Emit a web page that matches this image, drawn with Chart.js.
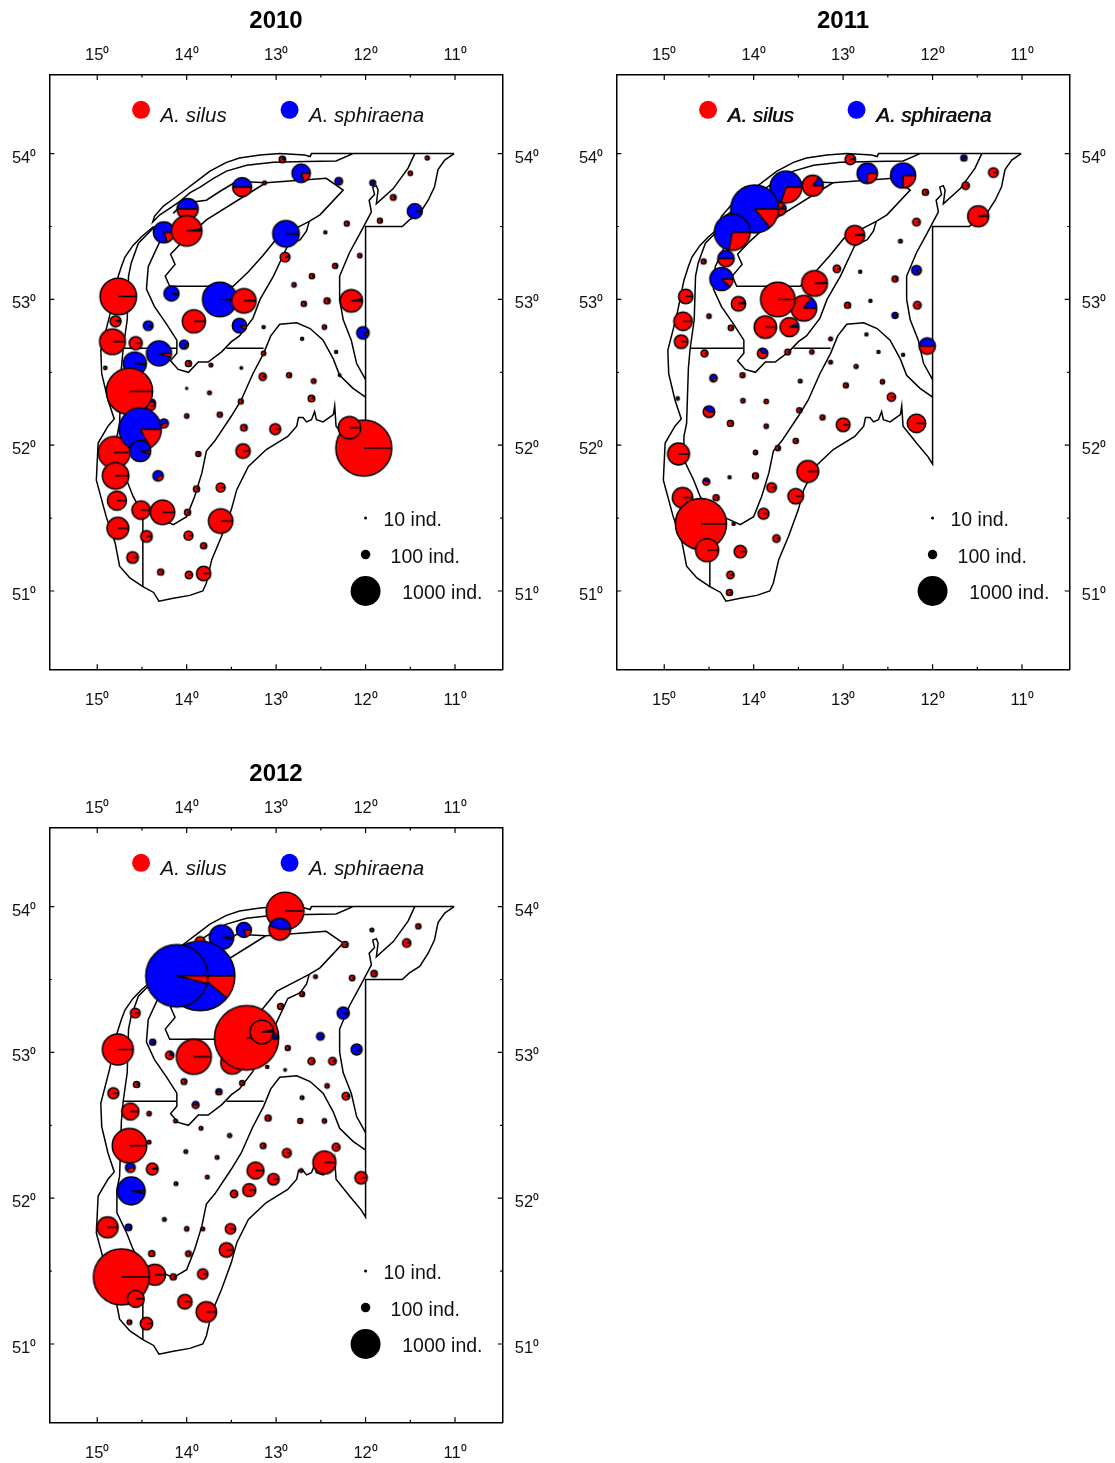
<!DOCTYPE html>
<html><head><meta charset="utf-8">
<script src="https://cdn.jsdelivr.net/npm/chart.js@4"></script>
<style>html,body{margin:0;padding:0;background:#fff}canvas{position:absolute;display:block}</style>
</head><body>
<canvas id="c2010" width="552" height="715" style="left:0;top:0"></canvas>
<canvas id="c2011" width="552" height="715" style="left:567px;top:0"></canvas>
<canvas id="c2012" width="552" height="710" style="left:0;top:753px"></canvas>
<script>
const years = ['2010','2011','2012'];
const lonTicks = [15,14.5,14,13.5,13,12.5,12,11.5,11];
const latTicks = [54,53.5,53,52.5,52,51.5,51];
const speciesNames = ['A. silus','A. sphiraena'];
const speciesDots = [[14.51,54.30,360,0],[12.85,54.30,360,1]];
const sizeNames = ['10 ind.','100 ind.','1000 ind.'];
const sizeDots = [[12,51.5,10],[12,51.25,100],[12,51,1000]];
const sizeLabelLon = [11.80,11.72,11.59];

const topStrip = [[11.01,54],[12.14,54],[12.605,54],[12.62,53.98],[12.68,53.99],[12.96,54],[13.18,53.99],[13.41,53.97],[13.555,53.94],[13.74,53.88],[13.89,53.81],[14.04,53.74],[14.17,53.68],[14.26,53.64],[14.36,53.57],[14.38,53.53],[14.30,53.58],[14.19,53.625],[14.08,53.67],[13.965,53.73],[13.85,53.77],[13.70,53.83],[13.555,53.88],[13.33,53.92],[13.03,53.94],[12.66,53.945],[12.33,53.95],[12.14,54]];
const outerCoast = [[14.37,53.50],[14.505,53.43],[14.60,53.37],[14.69,53.29],[14.73,53.225],[14.78,53.13],[14.86,52.89],[14.91,52.77],[14.96,52.65],[14.95,52.49],[14.88,52.31],[14.81,52.18],[14.88,52.13],[14.99,52.015],[15.01,51.76],[14.90,51.51],[14.80,51.33],[14.75,51.17],[14.635,51.09],[14.49,51.03],[14.37,50.99],[14.31,50.93],[14.15,50.95],[13.965,50.97],[13.82,51.00],[13.78,51.055],[13.72,51.215],[13.61,51.375],[13.50,51.56],[13.44,51.695],[13.31,51.855],[13.11,51.97],[12.87,52.06],[12.77,52.13],[12.75,52.19],[12.70,52.19],[12.66,52.16],[12.605,52.175],[12.57,52.23],[12.55,52.175],[12.475,52.16],[12.36,52.21],[12.345,52.27],[12.33,52.13],[12.18,52.015],[12.05,51.92],[12.00,51.87],[12.00,53.50],[11.59,53.50],[11.51,53.545],[11.395,53.59],[11.30,53.68],[11.23,53.77],[11.19,53.89],[11.115,53.955],[11.01,54]];
const centralBasin = [[13.115,53.80],[12.44,53.83],[12.25,53.75],[12.51,53.58],[12.63,53.535],[12.99,53.42],[13.15,53.30],[13.31,53.19],[13.48,53.09],[14.19,53.09],[14.24,53.16],[14.13,53.24],[14.18,53.31],[14.04,53.40],[13.78,53.545],[13.115,53.80]];
const basinBand = [[12.63,53.535],[12.66,53.47],[12.73,53.41],[12.87,53.37],[13.03,53.16],[13.18,53.00],[13.26,52.87],[13.41,52.75],[13.50,52.71],[13.61,52.64],[13.76,52.57],[13.87,52.57],[13.98,52.50],[14.095,52.52],[14.18,52.58],[14.11,52.63],[14.11,52.72],[14.225,52.83],[14.36,52.95],[14.45,53.07],[14.43,53.225],[14.32,53.37],[14.255,53.45]];
const hillLine = [[14.355,53.50],[14.54,53.385],[14.62,53.25],[14.65,53.16],[14.665,52.86],[14.71,52.665],[14.73,52.53],[14.75,52.15],[14.78,52.06],[14.78,51.90],[14.67,51.76],[14.60,51.65],[14.52,51.56],[14.15,51.455],[14.00,51.51],[13.91,51.65],[13.83,51.81],[13.78,51.96],[13.685,52.03],[13.50,52.20],[13.39,52.31],[13.26,52.49],[13.14,52.63],[13.06,52.75],[12.96,52.83],[12.77,52.84],[12.62,52.80],[12.475,52.72],[12.36,52.59],[12.29,52.48],[12.14,52.39],[12.00,52.33]];
const lagoonLine = [[11.45,54],[11.525,53.90],[11.69,53.76],[11.88,53.655],[11.86,53.75],[11.88,53.78],[11.92,53.77],[11.90,53.72],[11.96,53.68],[11.935,53.60],[12.065,53.45],[12.18,53.32],[12.29,53.16],[12.29,53.00],[12.25,52.86],[12.16,52.72],[12.10,52.56],[12.00,52.45]];
const sectorWest = [[14.71,52.665],[14.11,52.665]];
const sectorEast = [[13.555,52.665],[13.14,52.665]];
const sectorSouth = [[14.49,51.51],[14.49,51.03]];
const innerTop = [[14.15,53.59],[14.04,53.66],[13.78,53.68],[13.63,53.74],[13.44,53.81],[13.115,53.80]];
const mapLines = [topStrip,outerCoast,centralBasin,basinBand,hillLine,lagoonLine,sectorWest,sectorEast,sectorSouth,innerTop];

// [lon, lat, individuals, share of A. sphiraena]
const stations2010 = [
[12.93,53.96,32,.2],[12.72,53.865,338,.8],[12.30,53.81,50,.8],[13.38,53.77,364,.5],[13.13,53.80,8,0],[13.99,53.62,450,.5],[14.255,53.46,450,.8],[14.00,53.47,968,.02],[12.89,53.45,722,.99],[12.90,53.29,85,.05],
[12.21,53.52,18,0],[12.45,53.46,5,0],[12.065,53.30,12,0],[12.34,53.23,20,.1],[12.60,53.16,20,0],[12.80,53.10,12,0],[12.69,52.97,20,0],[12.43,52.99,30,.1],[12.16,52.99,512,.03],[14.17,53.04,220,.97],
[13.63,53.00,1250,.99],[13.36,52.99,610,.01],[14.765,53.02,1400,0],[13.92,52.85,545,0],[14.795,52.85,110,.05],[14.43,52.82,85,.95],[13.41,52.82,200,.9],[13.14,52.81,5,0],[12.46,52.81,12,0],[12.03,52.77,145,.9],
[12.71,52.73,5,0],[14.83,52.71,680,0],[14.57,52.70,160,0],[14.31,52.63,640,.95],[14.03,52.69,72,.85],[13.14,52.63,12,0],[12.33,52.64,5,0],[14.58,52.56,545,.98],[14.91,52.53,6,0],[13.98,52.56,30,.1],
[13.73,52.55,8,0],[13.39,52.53,3,0],[13.15,52.47,45,.1],[12.855,52.48,18,0],[12.58,52.44,15,0],[12.29,52.48,3,0],[14.39,52.29,45,.95],[14.40,52.27,70,0],[14.64,52.37,2280,0],[14.00,52.39,1,0],
[13.745,52.36,8,0],[13.395,52.30,18,0],[12.605,52.32,35,.1],[14.81,51.95,1060,0],[14.52,52.11,1900,.83],[14.255,52.15,70,.6],[14.00,52.20,12,0],[13.63,52.21,20,0],[13.36,52.12,35,.05],[13.01,52.11,110,0],
[12.02,51.98,3360,0],[12.18,52.12,510,0],[14.52,51.96,450,.95],[13.87,51.94,18,0],[13.37,51.96,200,0],[14.795,51.79,720,0],[14.32,51.79,100,.7],[13.62,51.71,70,0],[13.89,51.70,30,.05],[14.78,51.62,365,0],
[14.51,51.555,340,0],[14.27,51.54,610,0],[13.99,51.54,30,0],[13.62,51.48,610,0],[14.77,51.43,480,0],[13.98,51.38,70,0],[14.45,51.375,125,0],[13.81,51.31,30,0],[14.605,51.23,125,0],[14.29,51.13,30,0],
[13.975,51.11,45,0],[13.81,51.12,200,0],[11.92,53.80,25,.8],[11.69,53.70,25,.1],[11.84,53.54,18,0],[11.31,53.97,10,0],[11.50,53.865,12,0],[11.45,53.605,220,.97]];
const stations2011 = [
[12.92,53.96,100,.05],[11.65,53.97,30,.7],[11.32,53.87,85,0],[11.63,53.78,45,0],[12.73,53.865,420,.75],[12.33,53.85,650,.75],[13.34,53.78,450,.15],[13.64,53.77,1060,.7],[13.71,53.62,160,.1],[13.99,53.62,2450,.86],
[12.08,53.735,30,0],[12.18,53.53,50,0],[11.49,53.57,450,.02],[12.87,53.44,390,.02],[12.36,53.40,8,0],[14.24,53.46,1350,.72],[14.31,53.28,265,.5],[14.56,53.26,18,0],[14.36,53.14,545,.88],[13.07,53.21,45,0],
[12.18,53.20,85,.85],[12.81,53.19,5,0],[12.42,53.14,28,0],[13.32,53.11,680,.01],[14.76,53.02,200,.01],[13.44,52.94,680,.15],[13.73,53.00,1250,0],[14.17,52.97,200,.05],[12.95,52.96,30,0],[12.695,52.99,5,0],
[12.17,52.96,50,0],[14.50,52.885,12,0],[14.79,52.85,340,0],[13.87,52.81,510,0],[13.60,52.81,365,.07],[14.255,52.805,22,0],[12.42,52.89,28,.8],[14.81,52.71,180,0],[13.14,52.73,8,0],[12.74,52.76,5,0],
[12.06,52.68,265,.5],[12.605,52.64,5,0],[12.33,52.62,5,0],[14.55,52.63,40,0],[13.90,52.63,100,.35],[13.62,52.64,25,0],[13.35,52.64,12,0],[13.14,52.57,8,0],[12.855,52.54,10,0],[14.45,52.46,45,.7],
[14.125,52.48,18,0],[13.48,52.44,8,0],[12.97,52.41,18,0],[12.56,52.435,12,0],[12.46,52.33,60,0],[14.85,52.32,6,0],[14.12,52.305,12,0],[13.86,52.30,12,0],[14.50,52.23,125,.4],[13.49,52.24,20,0],
[13.23,52.19,18,0],[14.26,52.15,30,0],[13.86,52.13,12,0],[13.00,52.14,180,0],[12.18,52.15,340,0],[13.53,52.03,20,0],[13.73,51.98,20,0],[14.84,51.94,480,0],[13.98,51.95,12,0],[13.395,51.82,480,0],
[14.53,51.75,40,.4],[14.27,51.78,5,0],[13.98,51.79,28,0],[13.80,51.71,85,0],[13.53,51.65,240,0],[14.795,51.64,420,0],[14.42,51.64,30,0],[14.225,51.46,5,0],[14.59,51.46,2800,0],[13.89,51.53,110,0],
[14.52,51.28,545,0],[13.745,51.36,45,0],[14.15,51.27,145,0],[14.26,51.11,45,0],[14.27,50.99,30,0]];
const stations2012 = [
[12.90,53.97,1500,0],[12.96,53.845,480,.45],[11.93,53.84,8,0],[11.41,53.865,20,0],[11.54,53.75,60,.05],[12.23,53.74,30,0],[13.36,53.84,220,.8],[13.61,53.79,610,.97],[13.85,53.76,90,0],[13.85,53.525,5230,.89],
[14.11,53.525,4170,.96],[12.15,53.51,22,0],[11.905,53.54,32,.05],[12.56,53.52,8,0],[12.71,53.40,18,0],[12.95,53.315,28,0],[12.25,53.27,140,.95],[14.575,53.27,85,0],[13.49,52.93,540,0],[13.33,53.10,4450,0],
[13.16,53.14,570,.03],[13.01,53.11,25,.9],[12.505,53.11,50,.9],[12.10,53.02,110,.95],[14.38,53.07,30,.85],[14.77,53.02,1000,0],[14.19,52.98,60,.2],[13.92,52.97,1280,0],[12.87,53.03,18,0],[12.605,52.94,40,0],
[12.37,52.94,50,.05],[13.10,52.90,5,0],[12.90,52.88,3,0],[14.82,52.72,110,0],[14.56,52.78,30,.05],[14.03,52.80,25,0],[13.38,52.79,18,0],[13.64,52.73,30,.5],[12.43,52.77,12,0],[12.71,52.69,8,0],
[12.22,52.70,50,.05],[13.90,52.64,40,.5],[14.63,52.595,290,0],[14.42,52.58,12,0],[13.09,52.55,30,0],[12.73,52.53,18,0],[12.46,52.53,12,0],[13.84,52.48,8,0],[13.52,52.43,10,0],[14.125,52.53,8,0],
[14.64,52.36,1250,0],[14.42,52.385,8,0],[14.01,52.32,8,0],[13.145,52.36,25,0],[12.88,52.31,70,0],[12.33,52.35,55,0],[12.46,52.245,540,0],[13.66,52.28,8,0],[14.63,52.21,85,.6],[14.385,52.20,130,.05],
[13.23,52.19,285,0],[13.03,52.13,125,0],[13.77,52.145,8,0],[14.12,52.10,8,0],[12.05,52.14,145,0],[12.72,52.19,8,0],[13.47,52.03,45,0],[13.30,52.055,165,0],[14.62,52.05,800,.97],[14.885,51.80,450,0],
[14.65,51.80,35,.9],[14.25,51.855,8,0],[14.00,51.79,12,0],[13.82,51.79,8,0],[13.51,51.79,100,0],[13.555,51.645,200,0],[14.39,51.62,30,0],[13.98,51.62,25,0],[14.355,51.475,450,0],[14.73,51.46,3360,0],
[14.15,51.46,30,0],[13.82,51.48,100,0],[14.57,51.31,285,0],[14.02,51.29,200,0],[13.78,51.22,420,0],[14.45,51.14,145,0],[14.64,51.15,15,0]];
const stationsByYear = [stations2010,stations2011,stations2012];

const RED='#ff0000', BLUE='#0000ff', FONT='"Liberation Sans", Arial, sans-serif';
const radiusOf = n => 15*Math.sqrt(n/1000);

function pie(rIn, blue){
  const r = rIn+0.5;
  const size = Math.ceil(2*r+4), c = document.createElement('canvas');
  c.width = c.height = size;
  const g = c.getContext('2d'), m = size/2, end = 2*Math.PI*(1-blue);
  g.lineWidth = 1.5; g.strokeStyle = '#000'; g.lineJoin='round';
  g.beginPath(); g.arc(m,m,r,0,2*Math.PI); g.fillStyle = blue>=1?BLUE:RED; g.fill();
  if(blue>0 && blue<1){ g.beginPath(); g.moveTo(m,m); g.arc(m,m,r,end,2*Math.PI); g.closePath(); g.fillStyle=BLUE; g.fill(); }
  g.beginPath(); g.arc(m,m,r,0,2*Math.PI); g.stroke();
  g.beginPath(); g.moveTo(m,m); g.lineTo(m+r,m);
  if(blue>0 && blue<1){ g.moveTo(m,m); g.lineTo(m+r*Math.cos(end),m+r*Math.sin(end)); }
  g.stroke();
  return c;
}
const toPoint = p => ({x:p[0],y:p[1]});
const integerDegree = v => Number.isInteger(v) ? v+'\u2070' : '';

const frameAndText = {
  id:'frameAndText',
  afterDraw(chart, args, opts){
    const g = chart.ctx, s = chart.scales, A = chart.chartArea;
    g.save(); g.strokeStyle='#000'; g.lineWidth=1.2;
    lonTicks.forEach(v=>{ const x=s.x.getPixelForValue(v), l=Number.isInteger(v)?5:2.5;
      g.beginPath(); g.moveTo(x,A.top); g.lineTo(x,A.top+l); g.moveTo(x,A.bottom); g.lineTo(x,A.bottom-l); g.stroke(); });
    latTicks.forEach(v=>{ const y=s.y.getPixelForValue(v), l=Number.isInteger(v)?5:2.5;
      g.beginPath(); g.moveTo(A.left,y); g.lineTo(A.left+l,y); g.moveTo(A.right,y); g.lineTo(A.right-l,y); g.stroke(); });
    g.fillStyle='#111'; g.textBaseline='middle'; g.textAlign='left';
    g.font='italic 20.5px '+FONT;
    speciesNames.forEach((t,i)=>{
      const x=s.x.getPixelForValue(speciesDots[i][0])+19.5, y=s.y.getPixelForValue(speciesDots[i][1])+6.5;
      g.fillText(t,x,y); if(opts.doubled) g.fillText(t,x+0.7,y);
    });
    g.font='19.5px '+FONT;
    sizeNames.forEach((t,i)=> g.fillText(t,s.x.getPixelForValue(sizeLabelLon[i]),s.y.getPixelForValue(sizeDots[i][1])+3));
    g.restore();
  }
};

function lonAxis(position,h,pad){
  return {type:'linear',position,reverse:true,min:10.467,max:15.536,axis:'x',
    afterBuildTicks:a=>{a.ticks=lonTicks.map(value=>({value}))},
    afterFit:a=>{a.height=h},
    grid:{display:false,drawTicks:false},
    border:{display:true,color:'#000',width:1.5},
    ticks:{callback:integerDegree,autoSkip:false,maxRotation:0,padding:pad,color:'#111',font:{family:FONT,size:16.5}}};
}
function latAxis(position,pad){
  return {type:'linear',position,min:50.463,max:54.539,axis:'y',
    afterBuildTicks:a=>{a.ticks=latTicks.map(value=>({value}))},
    afterFit:a=>{a.width=49.3},
    grid:{display:false,drawTicks:false},
    border:{display:true,color:'#000',width:1.5},
    ticks:{callback:integerDegree,autoSkip:false,padding:pad,color:'#111',labelOffset:4.5,font:{family:FONT,size:16.5}}};
}

years.forEach((year,idx)=>{
  const lines = mapLines.map(l=>({type:'line',data:l.map(toPoint),borderColor:'#000',borderWidth:1.5,pointRadius:0,tension:0,fill:false,order:2,xAxisID:'x',yAxisID:'y'}));
  const stationSet = {type:'bubble',order:1,xAxisID:'x',yAxisID:'y',
    data:stationsByYear[idx].map(p=>({x:p[0],y:p[1],r:radiusOf(p[2]),blue:p[3]})),
    pointStyle:ctx=>pie(ctx.raw.r,ctx.raw.blue)};
  const species = {type:'bubble',order:1,xAxisID:'x',yAxisID:'y',
    data:speciesDots.map(p=>({x:p[0],y:p[1],r:radiusOf(p[2])})),
    backgroundColor:[RED,BLUE],borderWidth:0};
  const sizes = {type:'bubble',order:1,xAxisID:'x',yAxisID:'y',
    data:sizeDots.map(p=>({x:p[0],y:p[1],r:radiusOf(p[2])})),
    backgroundColor:'#000',borderWidth:0};
  const canvas = document.getElementById('c'+year);
  const bottom = canvas.height-669.3;
  new Chart(canvas,{
    type:'bubble',
    data:{datasets:[stationSet,species,sizes,...lines]},
    options:{
      responsive:false,animation:false,events:[],devicePixelRatio:1,
      layout:{padding:0},
      plugins:{legend:{display:false},tooltip:{enabled:false},
        title:{display:true,text:year,color:'#000',font:{family:FONT,size:24,weight:'bold'},padding:{top:7,bottom:0}},
        frameAndText:{doubled:idx===1}},
      scales:{x:lonAxis('bottom',bottom,21),xTop:lonAxis('top',39.2,10),y:latAxis('left',13),yRight:latAxis('right',12)}
    },
    plugins:[frameAndText]
  });
});
</script>
</body></html>
